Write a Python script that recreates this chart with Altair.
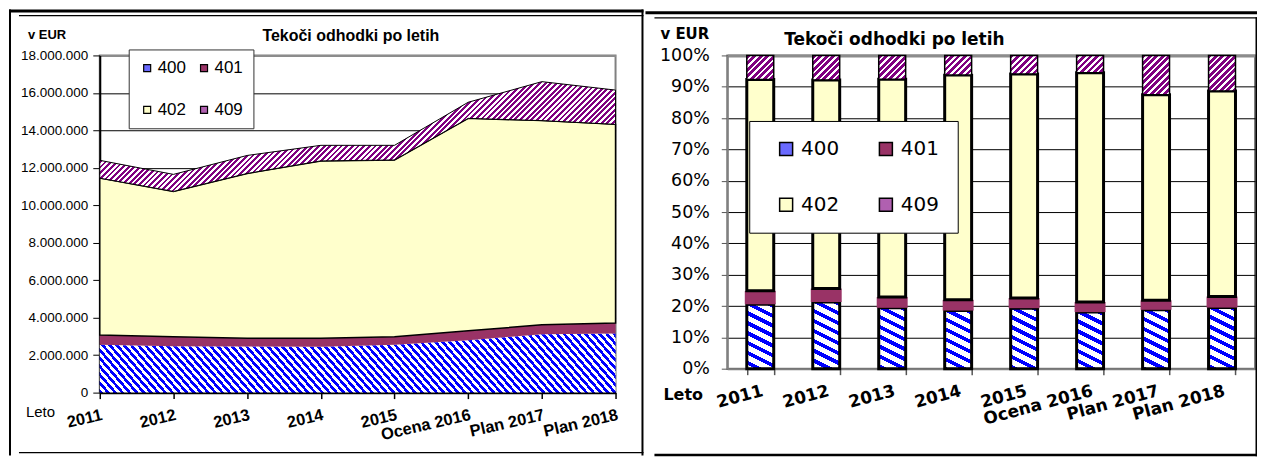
import math
import altair as alt
import pandas as pd

# ---------------- data ----------------
years = ["2011", "2012", "2013", "2014", "2015", "Ocena 2016", "Plan 2017", "Plan 2018"]
series = ["400", "401", "402", "409"]
v400 = [2550000, 2480000, 2460000, 2450000, 2550000, 2800000, 3120000, 3150000]
v401 = [530000, 500000, 440000, 450000, 430000, 500000, 500000, 570000]
v402 = [8370000, 7760000, 8800000, 9470000, 9440000, 11340000, 10900000, 10600000]
v409 = [950000, 910000, 960000, 830000, 780000, 860000, 2080000, 1830000]
eur_ticks = [0, 2000000, 4000000, 6000000, 8000000, 10000000, 12000000, 14000000, 16000000, 18000000]
pct_ticks = [0, 0.1, 0.2, 0.3, 0.4, 0.5, 0.6, 0.7, 0.8, 0.9, 1.0]
legend_colors = ["#6a6aff", "#993366", "#ffffcc", "#b060b0"]

rows = []
for i, yr in enumerate(years):
    for s, arr in zip(series, [v400, v401, v402, v409]):
        rows.append({"year": yr, "idx": i, "series": s, "val": arr[i]})
df = pd.DataFrame(rows)
one = pd.DataFrame({"k": [0]})

# ---------------- geometry / style ----------------
LW, LH = 517, 338      # left plot area
RW, RH = 529, 314      # right plot area
LX0, LY0 = 99, 54      # page position of left plot
RX0, RY0 = 726, 52.3   # page position of right plot
YMAX = 18000000


def stripes(w, h, dx, dy, period, c1, c2, frac):
    """Hard-stop linear gradient imitating diagonal hatching in a w x h box."""
    L = math.hypot(dx, dy)
    dx, dy = dx / L, dy / L
    nx, ny = -dy, dx
    ts = [nx * X + ny * Y for X in (0, w) for Y in (0, h)]
    tmin, tmax = min(ts), max(ts)
    ax, ay = nx * w, ny * h
    a2 = ax * ax + ay * ay
    p1x, p1y = ax * tmin / a2, ay * tmin / a2
    c = (tmax - tmin) / a2
    p2x, p2y = p1x + c * ax, p1y + c * ay
    span = tmax - tmin
    n = int(math.ceil(span / period))
    stops = []
    for k in range(n):
        o0 = round(min(k * period / span, 1), 5)
        o1 = round(min((k + frac) * period / span, 1), 5)
        o2 = round(min((k + 1) * period / span, 1), 5)
        stops += [{"offset": o0, "color": c1}, {"offset": o1, "color": c1},
                  {"offset": o1, "color": c2}, {"offset": o2, "color": c2}]
    return {"gradient": "linear", "x1": round(p1x, 5), "y1": round(p1y, 5),
            "x2": round(p2x, 5), "y2": round(p2y, 5), "stops": stops}


def band(x1, x2, y1, y2, color="black"):
    """Frame line drawn as a filled rectangle (exact bounds, no stroke)."""
    return alt.Chart(one).mark_rect(fill=color, opacity=1).encode(
        x=alt.value(x1), x2=alt.value(x2), y=alt.value(y1), y2=alt.value(y2))


def label(txt, x, y, font, size, bold=False, align="left"):
    return alt.Chart(one).mark_text(
        align=align, baseline="middle", font=font, fontSize=size,
        fontWeight="bold" if bold else "normal", color="black").encode(
        x=alt.value(x), y=alt.value(y), text=alt.value(txt))


# ================= LEFT: stacked area =================
xL = alt.X("year:O", sort=years, title=None,
           scale=alt.Scale(type="point", padding=0),
           axis=alt.Axis(labelAngle=-13, labelAlign="right", labelBaseline="top",
                         labelFont="Liberation Sans", labelFontSize=16.5, labelFontWeight="bold",
                         labelColor="black", labelPadding=8, tickSize=6, tickColor="black",
                         tickWidth=1.5, domainColor="black", domainWidth=2.5, grid=False))
yL_scale = alt.Scale(domain=[0, YMAX], nice=False)
yL_axis = alt.Axis(values=eur_ticks, title=None,
                   labelExpr="replace(format(datum.value, ',d'), regexp(',', 'g'), '.')",
                   labelFont="Liberation Sans", labelFontSize=13.5, labelColor="black",
                   labelPadding=5, tickSize=7, tickColor="black", domainColor="black",
                   domainWidth=2,
                   gridColor={"condition": {"test": "datum.value >= 18000000", "value": "#8c8c8c"},
                              "value": "black"},
                   gridWidth={"condition": {"test": "datum.value >= 18000000", "value": 2},
                              "value": 1})


def lbase():
    return alt.Chart(df).transform_stack(
        stack="val", groupby=["year"], as_=["lo", "hi"], offset="zero",
        sort=[alt.SortField("series", order="ascending")])


def lenc(ch):
    return ch.encode(x=xL, y=alt.Y("hi:Q", scale=yL_scale, axis=yL_axis), y2="lo:Q")


h400 = max(v400) / YMAX * LH
lo409 = [a + b + c for a, b, c in zip(v400, v401, v402)]
hi409 = [a + b for a, b in zip(lo409, v409)]
h409 = (max(hi409) - min(lo409)) / YMAX * LH

g400L = stripes(LW, h400, 1, 1.15, 5.4, "#0000ff", "#ffffff", 0.5)
g409L = stripes(LW, h409, 1, -1, 4.0, "#800080", "#ffffff", 0.5)

a400 = lenc(lbase().transform_filter("datum.series == '400'").mark_area(
    fill=g400L, opacity=1, interpolate="linear", orient="vertical"))
a401 = lenc(lbase().transform_filter("datum.series == '401'").mark_area(
    fill="#993366", opacity=1, orient="vertical"))
a402 = lenc(lbase().transform_filter("datum.series == '402'").mark_area(
    fill="#ffffcc", stroke="black", strokeWidth=1.5, opacity=1, orient="vertical"))
a409 = lenc(lbase().transform_filter("datum.series == '409'").mark_area(
    fill=g409L, stroke="black", strokeWidth=1, opacity=1, orient="vertical"))

legL = alt.Chart(df).transform_filter("datum.val < 0").mark_square(
    filled=True, stroke="black", strokeWidth=1.2).encode(
    color=alt.Color("series:N", scale=alt.Scale(domain=series, range=legend_colors),
                    legend=alt.Legend(orient="none", legendX=29, legendY=-6, title=None,
                                      columns=2, direction="horizontal",
                                      fillColor="white", strokeColor="#333333",
                                      padding=10, symbolOffset=0, symbolType="square",
                                      symbolSize=49, symbolStrokeColor="black",
                                      symbolStrokeWidth=1.2, symbolOpacity=1,
                                      labelFont="Liberation Sans", labelFontSize=17,
                                      labelColor="black", labelOffset=2,
                                      rowPadding=24, columnPadding=9)))

L = lambda px: px - LX0
T = lambda py: py - LY0
left = alt.layer(
    a400, a401, a402, a409, legL,
    band(L(8), L(644), T(8), T(11)),        # thick top line
    band(L(8), L(10), T(8), T(455)),        # thick left line
    band(L(18), L(644), T(13.5), T(14.7)),  # thin inner top line
    band(L(642), L(644), T(8), T(455)),     # separator
    band(L(18), L(644), T(451.5), T(452.7)),  # thin bottom line
    label("v EUR", L(27), T(34), "Liberation Sans", 13, bold=True),
    label("Tekoči odhodki po letih", L(262), T(35), "Liberation Sans", 16, bold=True),
    label("Leto", L(25), T(411), "Liberation Sans", 15),
).properties(width=LW, height=LH)

# ================= RIGHT: 100 % stacked bars =================
xR = alt.X("year:N", sort=years, title=None,
           scale=alt.Scale(paddingInner=0.59, paddingOuter=0.295),
           axis=alt.Axis(labelAngle=-15, labelAlign="right", labelBaseline="top",
                         labelFont="DejaVu Sans", labelFontSize=17, labelFontWeight="bold",
                         labelColor="black", labelPadding=8, tickSize=6, tickBand="extent",
                         tickColor="#555555", tickWidth=1.5, domainColor="#808080",
                         domainWidth=2, grid=False))
yR_scale = alt.Scale(domain=[0, 1], nice=False)
yR_axis = alt.Axis(values=pct_ticks, format=".0%", title=None,
                   labelFont="DejaVu Sans", labelFontSize=17.5, labelColor="black",
                   labelPadding=12, tickSize=6, tickColor="#555555", domainColor="#808080",
                   domainWidth=2,
                   gridColor={"condition": {"test": "datum.value >= 1", "value": "#8c8c8c"},
                              "value": "black"},
                   gridWidth={"condition": {"test": "datum.value >= 1", "value": 3},
                              "value": 1})


def rbase():
    return alt.Chart(df).transform_stack(
        stack="val", groupby=["year"], as_=["lo", "hi"], offset="normalize",
        sort=[alt.SortField("series", order="ascending")])


def renc(ch):
    return ch.encode(x=xR, y=alt.Y("hi:Q", scale=yR_scale, axis=yR_axis), y2="lo:Q")


totals = [a + b + c + d for a, b, c, d in zip(v400, v401, v402, v409)]
BAR = 27
layersR = []
for i in range(len(years)):
    h = v400[i] / totals[i] * RH
    g = stripes(BAR, h, 2, 1, 8.9, "#0000ff", "#ffffff", 0.42)
    layersR.append(renc(rbase().transform_filter(
        f"datum.series == '400' && datum.idx == {i}").mark_bar(
        size=BAR, fill=g, stroke="black", strokeWidth=3, opacity=1)))
layersR.append(renc(rbase().transform_filter("datum.series == '401'").mark_bar(
    size=BAR + 4, fill="#993366", opacity=1)))
layersR.append(renc(rbase().transform_filter("datum.series == '402'").mark_bar(
    size=BAR, fill="#ffffcc", stroke="black", strokeWidth=3, opacity=1)))
for i in range(len(years)):
    h = v409[i] / totals[i] * RH
    g = stripes(BAR, h, 1, -1, 4.6, "#800080", "#ffffff", 0.6)
    layersR.append(renc(rbase().transform_filter(
        f"datum.series == '409' && datum.idx == {i}").mark_bar(
        size=BAR, fill=g, stroke="black", strokeWidth=1.5, opacity=1)))

legR = alt.Chart(df).transform_filter("datum.val < 0").mark_square(
    filled=True, stroke="black", strokeWidth=1.5).encode(
    color=alt.Color("series:N", scale=alt.Scale(domain=series, range=legend_colors),
                    legend=alt.Legend(orient="none", legendX=22, legendY=65.7, title=None,
                                      columns=2, direction="horizontal",
                                      fillColor="white", strokeColor="black",
                                      padding=18, symbolOffset=9, symbolType="square",
                                      symbolSize=169, symbolStrokeColor="black",
                                      symbolStrokeWidth=1.5, symbolOpacity=1,
                                      labelFont="DejaVu Sans", labelFontSize=20,
                                      labelColor="black", labelOffset=5,
                                      rowPadding=36, columnPadding=27)))

RXf = lambda px: px - RX0
RYf = lambda py: py - RY0
right = alt.layer(
    *layersR, legR,
    band(RXf(644), RXf(1257), RYf(8), RYf(11)),          # thick top line
    band(RXf(653), RXf(1257), RYf(14), RYf(15.2)),       # thin inner top line
    band(RXf(1255.5), RXf(1257), RYf(14), RYf(454)),     # right border
    band(RXf(653), RXf(1257), RYf(451.5), RYf(454)),     # thick bottom line
    label("v EUR", RXf(659), RYf(30.5), "DejaVu Sans", 15, bold=True),
    label("Tekoči odhodki po letih", RXf(783), RYf(36.5), "DejaVu Sans", 17, bold=True),
    label("Leto", RXf(662), RYf(393), "DejaVu Sans", 16, bold=True),
).properties(width=RW, height=RH)

chart = alt.hconcat(left, right, spacing=0).resolve_scale(
    color="independent").resolve_legend(color="independent").properties(
    padding=0).configure_view(stroke="#808080", strokeWidth=2)

chart.save("out.html", embed_options={"renderer": "svg", "actions": False})
